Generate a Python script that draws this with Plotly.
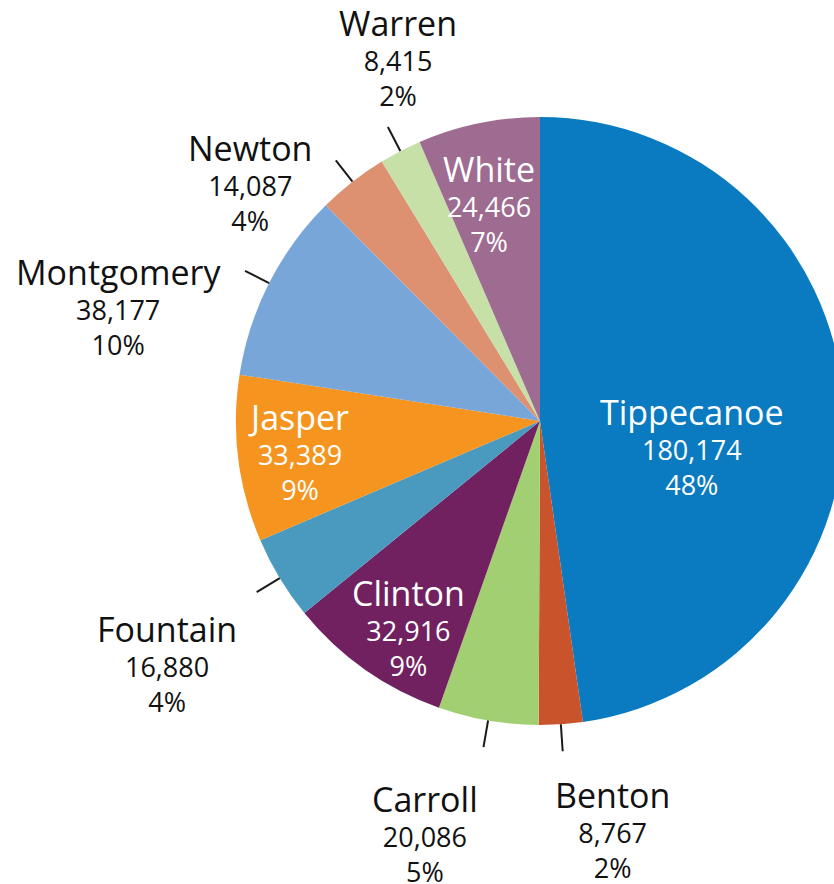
import math
import plotly.graph_objects as go

# County populations shown as shares of the region
counties = ["Tippecanoe", "Benton", "Carroll", "Clinton", "Fountain",
            "Jasper", "Montgomery", "Newton", "Warren", "White"]
population = [180174, 8767, 20086, 32916, 16880, 33389, 38177, 14087, 8415, 24466]
percent_labels = ["48%", "2%", "5%", "9%", "4%", "9%", "10%", "4%", "2%", "7%"]

colors = ["#0a7bc1", "#c9532b", "#a3cf73", "#722160", "#4a9ac0",
          "#f5941e", "#78a6d8", "#de9171", "#c6e0a8", "#9e6b91"]

# Canvas and pie geometry in pixels
W, H = 860, 884
CX, CY, R = 540, 421, 304

# Label placement: inside labels sit at a fraction of the radius,
# outside labels are offset (px) from the end of their leader line.
inside = {"Tippecanoe": (0.5, 0, 36), "Clinton": (0.8, 8, 7),
          "Jasper": (0.8, 0, 0), "White": (0.74, -5, 2)}
outside = {"Benton": (50, 78), "Carroll": (-58, 86), "Fountain": (-90, 71),
           "Montgomery": (-127, 35), "Newton": (-86, 22), "Warren": (10, -70)}
LEADER = 27

FONT = "Open Sans"


def px_to_paper(x, y):
    return x / W, 1 - y / H


def point(angle_deg, radius):
    a = math.radians(angle_deg)
    return CX + radius * math.sin(a), CY - radius * math.cos(a)


total = sum(population)
fig = go.Figure()

dx0, dy1 = px_to_paper(CX - R, CY - R)
dx1, dy0 = px_to_paper(CX + R, CY + R)
fig.add_trace(go.Pie(
    labels=counties,
    values=population,
    sort=False,
    direction="clockwise",
    rotation=0,
    marker=dict(colors=colors, line=dict(width=0)),
    textinfo="none",
    hoverinfo="label+value+percent",
    showlegend=False,
    domain=dict(x=[dx0, dx1], y=[dy0, dy1]),
))

annotations = []
shapes = []
cum = 0
for name, val, pct in zip(counties, population, percent_labels):
    mid = (cum + val / 2) / total * 360
    cum += val
    text = (f"<span style='font-size:34px'>{name}</span><br>"
            f"{val:,}<br>{pct}")
    if name in inside:
        rf, ox, oy = inside[name]
        x, y = point(mid, rf * R)
        x, y = x + ox, y + oy
        color = "white"
    else:
        x0, y0 = point(mid, R)
        x1, y1 = point(mid, R + LEADER)
        shapes.append(dict(type="line", xref="paper", yref="paper",
                           x0=px_to_paper(x0, y0)[0], y0=px_to_paper(x0, y0)[1],
                           x1=px_to_paper(x1, y1)[0], y1=px_to_paper(x1, y1)[1],
                           line=dict(color="#1a1a1a", width=2)))
        ox, oy = outside[name]
        x, y = x1 + ox, y1 + oy
        color = "#111111"
    px, py = px_to_paper(x, y)
    annotations.append(dict(x=px, y=py, xref="paper", yref="paper",
                            text=text, showarrow=False, align="center",
                            xanchor="center", yanchor="middle",
                            font=dict(family=FONT, size=27, color=color)))

fig.update_layout(
    width=W, height=H,
    margin=dict(l=0, r=0, t=0, b=0),
    paper_bgcolor="white",
    plot_bgcolor="white",
    annotations=annotations,
    shapes=shapes,
)

fig.write_html(
    "out.html",
    config={"displayModeBar": False},
    post_script="document.body.style.margin='0';"
                "document.body.style.overflow='hidden';"
                "document.documentElement.style.overflow='hidden';",
)
